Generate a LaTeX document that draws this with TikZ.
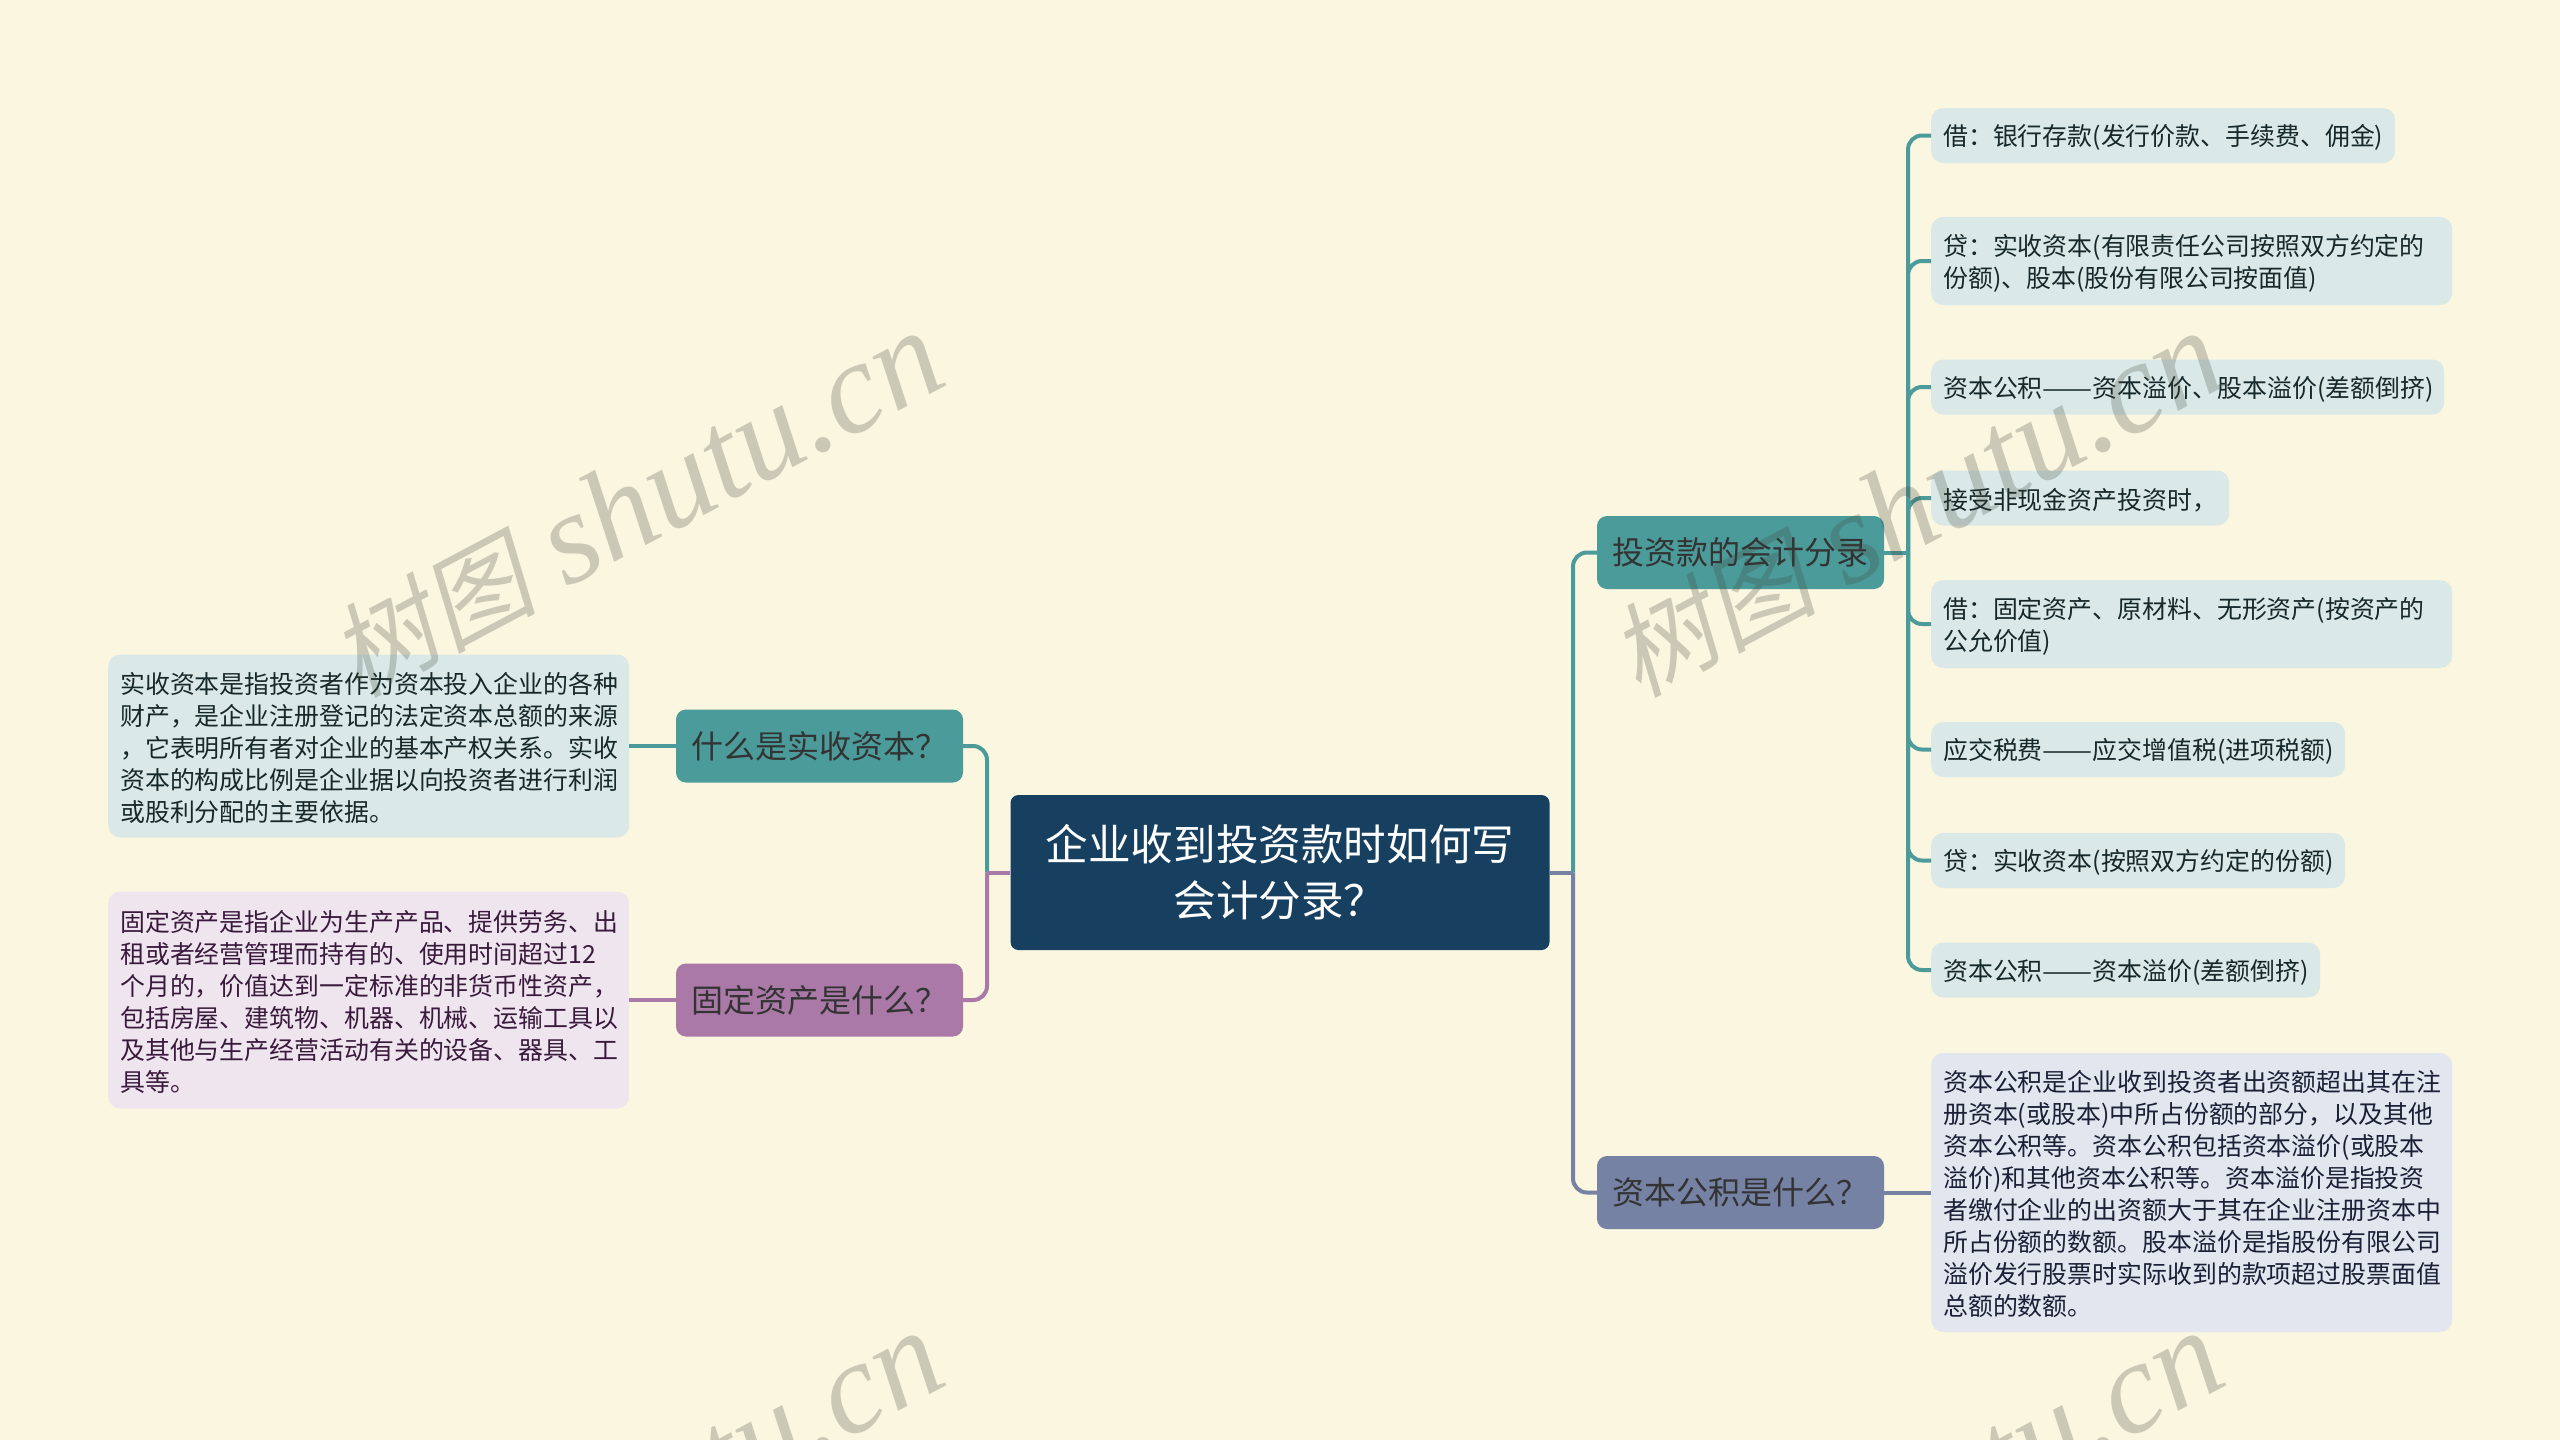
\documentclass[tikz,border=0pt]{standalone}
\usepackage{fontspec}
\setmainfont{Noto Sans CJK SC}
\newfontfamily\markLatin{Liberation Serif}
\newfontfamily\markCjk[FakeSlant=0.2]{Noto Sans CJK SC}
\usepackage{tikz}
\definecolor{pageBg}{HTML}{FBF6E0}
\definecolor{rootBlue}{HTML}{173F5F}
\definecolor{tealMain}{HTML}{4C9B9B}
\definecolor{tealLeaf}{HTML}{DAE9E8}
\definecolor{tealText}{HTML}{16282A}
\definecolor{plumMain}{HTML}{AA79A8}
\definecolor{plumLeaf}{HTML}{EFE5EF}
\definecolor{plumText}{HTML}{3A1A3C}
\definecolor{slateMain}{HTML}{7682A4}
\definecolor{slateLeaf}{HTML}{E2E6EE}
\definecolor{slateText}{HTML}{1A2035}
\definecolor{markInk}{HTML}{3F4638}
\tikzset{
  rootNode/.style={%
    rectangle, rounded corners=8pt, fill=rootBlue, text=white,
    minimum width=539pt, minimum height=155pt, inner sep=0pt, align=center,
    font=\fontsize{42.6pt}{56pt}\selectfont,
  },
  branchNode/.style={%
    rectangle, rounded corners=10pt, text=black!80,
    minimum width=287pt, minimum height=73pt, inner sep=0pt,
    font=\fontsize{32pt}{40pt}\selectfont,
  },
  leafNode/.style={%
    rectangle, rounded corners=12pt, anchor=west, inner xsep=12pt, inner ysep=0pt,
    align=left, minimum height=55pt,
    font=\fontsize{24.9pt}{32pt}\selectfont,
    execute at begin node={\rule{0pt}{25pt}},
  },
  tealLeafNode/.style={leafNode, fill=tealLeaf, text=tealText},
  plumLeafNode/.style={leafNode, fill=plumLeaf, text=plumText},
  slateLeafNode/.style={leafNode, fill=slateLeaf, text=slateText},
  linkLine/.style={line width=4pt, rounded corners=14pt},
  markNode/.style={%
    rotate=28, text=markInk, opacity=0.25, inner sep=0pt,
    font=\fontsize{130pt}{130pt}\selectfont,
  },
}
\newcommand{\markText}{{\markCjk\fontsize{103pt}{130pt}\selectfont 树图} {\markLatin\itshape shutu.cn}}
\newcommand{\longDash}{\scalebox{1.2}[1]{——}}

\begin{document}
\begin{tikzpicture}[x=1pt,y=-1pt]
                \useasboundingbox (0,0) rectangle (2560,1440);
                \clip (0,0) rectangle (2560,1440);
                \fill[pageBg] (0,0) rectangle (2560,1440);

                \node[rootNode]
                  (root) at (1280,872.5) {企业收到投资款时如何写\\会计分录？};
                \node[branchNode, fill=tealMain]
                  (invest) at (1740.5,552.5) {投资款的会计分录};
                \node[branchNode, fill=slateMain]
                  (capital) at (1740.5,1192.5) {资本公积是什么？};
                \node[branchNode, fill=tealMain]
                  (paidIn) at (819.5,746) {什么是实收资本？};
                \node[branchNode, fill=plumMain]
                  (fixedAsset) at (819.5,1000) {固定资产是什么？};

                \node[tealLeafNode, text width=440pt]
                  (entry1) at (1931,135.5) {借：银行存款(发行价款、手续费、佣金)};
                \node[tealLeafNode, text width=497pt, minimum height=88pt]
                  (entry2) at (1931,261) {贷：实收资本(有限责任公司按照双方约定的\\份额)、股本(股份有限公司按面值)};
                \node[tealLeafNode, text width=489pt]
                  (entry3) at (1931,387) {资本公积\longDash 资本溢价、股本溢价(差额倒挤)};
                \node[tealLeafNode, text width=274pt]
                  (entry4) at (1931,498) {接受非现金资产投资时，};
                \node[tealLeafNode, text width=497pt, minimum height=88pt]
                  (entry5) at (1931,624) {借：固定资产、原材料、无形资产(按资产的\\公允价值)};
                \node[tealLeafNode, text width=390pt]
                  (entry6) at (1931,749.5) {应交税费\longDash 应交增值税(进项税额)};
                \node[tealLeafNode, text width=390pt]
                  (entry7) at (1931,860.5) {贷：实收资本(按照双方约定的份额)};
                \node[tealLeafNode, text width=365pt]
                  (entry8) at (1931,970) {资本公积\longDash 资本溢价(差额倒挤)};
                \node[slateLeafNode, text width=497pt, minimum height=279pt]
                  (capitalNote) at (1931,1192.5) {资本公积是企业收到投资者出资额超出其在注\\册资本(或股本)中所占份额的部分，以及其他\\资本公积等。资本公积包括资本溢价(或股本\\溢价)和其他资本公积等。资本溢价是指投资\\者缴付企业的出资额大于其在企业注册资本中\\所占份额的数额。股本溢价是指股份有限公司\\溢价发行股票时实际收到的款项超过股票面值\\总额的数额。};
                \node[tealLeafNode, text width=497pt, minimum height=183pt]
                  (paidInNote) at (108,746) {实收资本是指投资者作为资本投入企业的各种\\财产，是企业注册登记的法定资本总额的来源\\，它表明所有者对企业的基本产权关系。实收\\资本的构成比例是企业据以向投资者进行利润\\或股利分配的主要依据。};
                \node[plumLeafNode, text width=497pt, minimum height=217pt]
                  (fixedNote) at (108,1000) {固定资产是指企业为生产产品、提供劳务、出\\租或者经营管理而持有的、使用时间超过12\\个月的，价值达到一定标准的非货币性资产，\\包括房屋、建筑物、机器、机械、运输工具以\\及其他与生产经营活动有关的设备、器具、工\\具等。};

                \coordinate (rootRight) at (1573,872.5);
                \coordinate (rootLeft) at (987,872.5);
                \coordinate (investBus) at (1908,552.5);

                \draw[linkLine, tealMain] (rootRight) |- (invest.west);
                \draw[linkLine, slateMain] (rootRight) |- (capital.west);
                \draw[linkLine, slateMain] (root.east) -- (rootRight);
                \draw[linkLine, tealMain] (rootLeft) |- (paidIn.east);
                \draw[linkLine, plumMain] (rootLeft) |- (fixedAsset.east);
                \draw[linkLine, plumMain] (root.west) -- (rootLeft);

                \draw[linkLine, tealMain] (invest.east) -- (investBus);
                \draw[linkLine, tealMain] (investBus) |- (entry1.west);
                \draw[linkLine, tealMain] (investBus) |- (entry2.west);
                \draw[linkLine, tealMain] (investBus) |- (entry3.west);
                \draw[linkLine, tealMain] (investBus) |- (entry4.west);
                \draw[linkLine, tealMain] (investBus) |- (entry5.west);
                \draw[linkLine, tealMain] (investBus) |- (entry6.west);
                \draw[linkLine, tealMain] (investBus) |- (entry7.west);
                \draw[linkLine, tealMain] (investBus) |- (entry8.west);

                \draw[linkLine, slateMain] (capital.east) -- (capitalNote.west);
                \draw[linkLine, tealMain] (paidIn.west) -- (paidInNote.east);
                \draw[linkLine, plumMain] (fixedAsset.west) -- (fixedNote.east);

                \node[markNode] (mark1) at (636,505) {\markText};
                \node[markNode] (mark2) at (1916,505) {\markText};
                \node[markNode] (mark3) at (636,1505) {\markText};
                \node[markNode] (mark4) at (1916,1505) {\markText};
              \end{tikzpicture}
\end{document}
